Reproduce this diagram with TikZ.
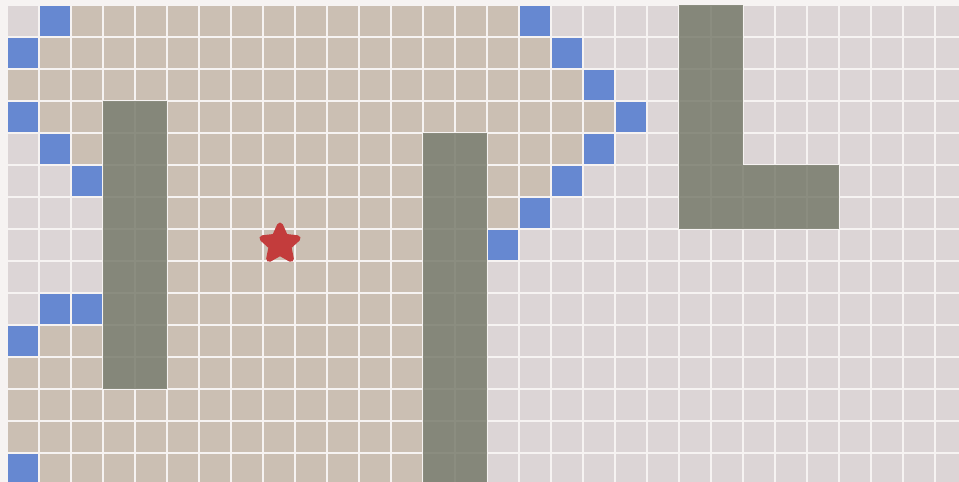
\documentclass[tikz,border=0pt]{standalone}
\usetikzlibrary{shapes.geometric}
\definecolor{gapc}{HTML}{F6F3F2}
\definecolor{tanc}{HTML}{CBBFB3}
\definecolor{lightc}{HTML}{DCD5D6}
\definecolor{bluec}{HTML}{6688D1}
\definecolor{obstc}{HTML}{85877A}
\definecolor{obstline}{HTML}{8B8D80}
\definecolor{starc}{HTML}{C33C3C}
\newcommand\tanrow[3]{\foreach \c in {#2,...,#3} {\fill[tanc] ({8+32*\c},{6+32*#1}) rectangle +(30,30);}}
\newcommand\bluecell[2]{\fill[bluec] ({8+32*#2},{6+32*#1}) rectangle +(30,30);}
\newcommand\obstblock[4]{%
  \fill[obstline] ({8+32*#1-1},{6+32*#2-1}) rectangle ({8+32*#3+31},{6+32*#4+31});
  \foreach \c in {#1,...,#3} {\foreach \r in {#2,...,#4} {\fill[obstc] ({8+32*\c},{6+32*\r}) rectangle +(30,30);}}}
\begin{document}
\begin{tikzpicture}[x=1pt,y=-1pt]
\useasboundingbox (0,0) rectangle (959,482);
\clip (0,0) rectangle (959,482);
\fill[gapc] (0,0) rectangle (959,482);
\foreach \r in {0,...,14} {\foreach \c in {0,...,29} {\fill[lightc] ({8+32*\c},{6+32*\r}) rectangle +(30,30);}}
% explored region
\tanrow{0}{2}{15}
\tanrow{1}{1}{16}
\tanrow{2}{0}{17}
\tanrow{3}{1}{18}
\tanrow{4}{2}{17}
\tanrow{5}{3}{16}
\tanrow{6}{3}{15}
\tanrow{7}{3}{14}
\tanrow{8}{3}{14}
\tanrow{9}{3}{14}
\tanrow{10}{1}{14}
\tanrow{11}{0}{14}
\tanrow{12}{0}{14}
\tanrow{13}{0}{14}
\tanrow{14}{1}{14}
% frontier
\bluecell{0}{1}\bluecell{0}{16}
\bluecell{1}{0}\bluecell{1}{17}
\bluecell{2}{18}
\bluecell{3}{0}\bluecell{3}{19}
\bluecell{4}{1}\bluecell{4}{18}
\bluecell{5}{2}\bluecell{5}{17}
\bluecell{6}{16}
\bluecell{7}{15}
\bluecell{9}{1}\bluecell{9}{2}
\bluecell{10}{0}
\bluecell{14}{0}
% obstacles
\obstblock{3}{3}{4}{11}
\obstblock{13}{4}{14}{14}
\obstblock{21}{0}{22}{6}
\obstblock{23}{5}{25}{6}
% goal
\node[star, star points=5, star point ratio=2.1, minimum size=37pt, inner sep=0pt,
      fill=starc, draw=starc, line width=6pt, line join=round] (goal) at (280,244) {};
\end{tikzpicture}
\end{document}
